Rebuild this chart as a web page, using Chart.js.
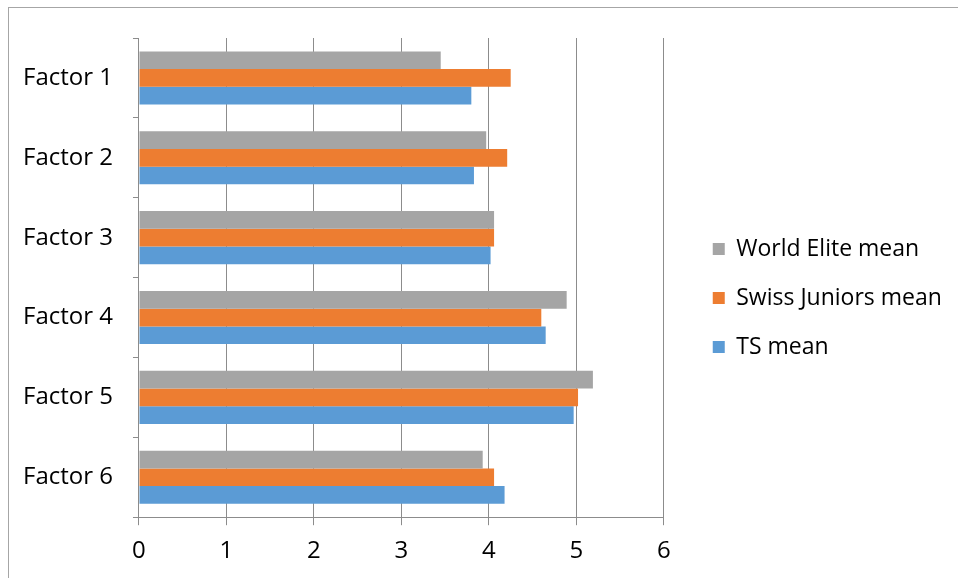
<!DOCTYPE html>
<html>
<head>
<meta charset="utf-8">
<script src="https://cdn.jsdelivr.net/npm/chart.js@4"></script>
<style>
  html, body { margin: 0; padding: 0; background: #fff; overflow: hidden; }
  #wrap { position: relative; width: 958px; height: 578px; }
  #frame {
    position: absolute; left: 8px; top: 7px; width: 1000px; height: 600px;
    border-left: 1px solid #a6a6a6; border-top: 1px solid #a6a6a6;
    pointer-events: none;
  }
</style>
</head>
<body>
<div id="wrap">
  <canvas id="chart" width="958" height="578"></canvas>
  <div id="frame"></div>
</div>
<script>
// data
var factors = ['Factor 1', 'Factor 2', 'Factor 3', 'Factor 4', 'Factor 5', 'Factor 6'];
var worldElite = [3.45, 3.97, 4.06, 4.89, 5.19, 3.93];
var swissJuniors = [4.25, 4.21, 4.06, 4.60, 5.02, 4.06];
var tsMean = [3.80, 3.83, 4.02, 4.65, 4.97, 4.18];
var xTicks = [0, 1, 2, 3, 4, 5, 6];

Chart.defaults.font.family = 'Open Sans';
Chart.defaults.color = '#000';

// move the legend a bit away from the plot (and give it room up to the canvas edge)
var legendGap = 23;
var legendLift = 10;
var legendGapPlugin = {
    id: 'legendGap',
    afterLayout: function(chart) {
        var lg = chart.legend;
        lg.left = chart.chartArea.right + legendGap;
        lg.right = chart.width;
        lg.width = lg.right - lg.left;
        lg.top -= legendLift;
        lg.bottom -= legendLift;
    }
};

var ctx = document.getElementById('chart').getContext('2d');
var myBarChart = new Chart(ctx, {
    type: 'bar',
    data: {
        labels: factors,
        datasets: [
            { label: 'World Elite mean', data: worldElite, backgroundColor: '#a5a5a5' },
            { label: 'Swiss Juniors mean', data: swissJuniors, backgroundColor: '#ed7d31' },
            { label: 'TS mean', data: tsMean, backgroundColor: '#5b9bd5' }
        ]
    },
    plugins: [legendGapPlugin],
    options: {
        indexAxis: 'y',
        responsive: false,
        animation: false,
        layout: { padding: { left: 3, top: 38, bottom: 0, right: 74 } },
        datasets: { bar: { barPercentage: 1, categoryPercentage: 0.665 } },
        scales: {
            x: {
                min: 0,
                max: 6,
                afterBuildTicks: function(scale) {
                    scale.ticks = xTicks.map(function(v) { return { value: v }; });
                },
                grid: { color: '#8c8c8c', lineWidth: 1, tickLength: 8 },
                border: { color: '#8c8c8c' },
                ticks: { font: { size: 24 }, padding: 12, color: '#000' }
            },
            y: {
                grid: { offset: true, drawOnChartArea: false, color: '#8c8c8c', tickLength: 6 },
                border: { color: '#8c8c8c' },
                ticks: { font: { size: 24 }, padding: 20, color: '#000' }
            }
        },
        plugins: {
            tooltip: { enabled: false },
            legend: {
                position: 'right',
                labels: {
                    boxWidth: 12,
                    boxHeight: 12,
                    padding: 26,
                    font: { size: 23 },
                    color: '#000'
                }
            }
        }
    }
});
</script>
</body>
</html>
